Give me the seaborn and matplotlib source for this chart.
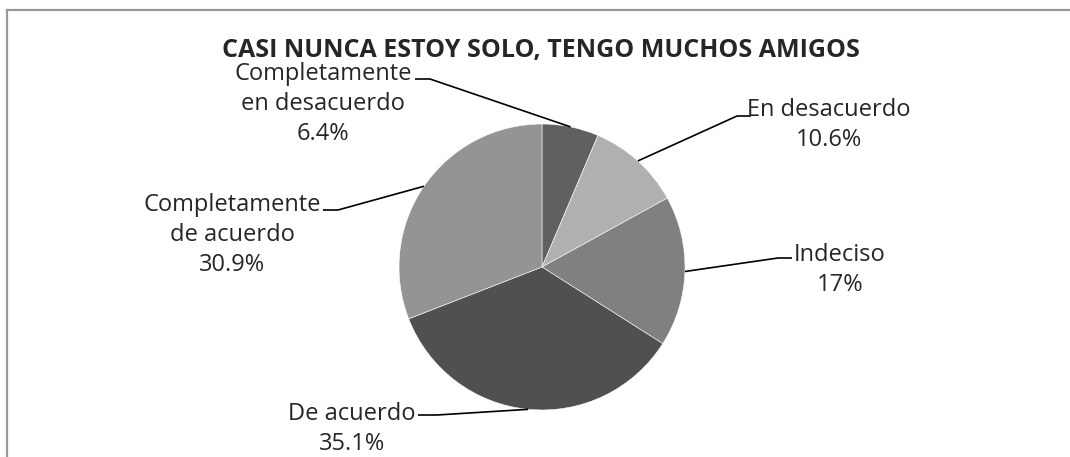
import numpy as np
import seaborn as sns
import matplotlib.pyplot as plt

sns.set_style("white")
plt.rcParams['font.family'] = ['Open Sans', 'DejaVu Sans']

# data
categories = ["Completamente\nen desacuerdo", "En desacuerdo", "Indeciso",
              "De acuerdo", "Completamente\nde acuerdo"]
values = [6.4, 10.6, 17, 35.1, 30.9]
colors = ["#606060", "#b0b0b0", "#808080", "#505050", "#949494"]
title = "CASI NUNCA ESTOY SOLO, TENGO MUCHOS AMIGOS"

W, H = 1070, 457
fig = plt.figure(figsize=(W / 100, H / 100), dpi=100)
ax = fig.add_axes([0, 0, 1, 1])

cx, cy, r = 542, H - 267, 143
wedges, _ = ax.pie(values, colors=colors, startangle=90, counterclock=False,
                   center=(cx, cy), radius=r, frame=True,
                   wedgeprops=dict(edgecolor="white", linewidth=0.4))
ax.set_xlim(0, W)
ax.set_ylim(0, H)
ax.set_aspect("equal")
ax.axis("off")

# label layout (pixel positions, y from top): text centre, stub x0, stub x1, stub y
label_layout = [
    (323, 104, 415, 430, 79),
    (829, 125, 751, 737, 116),
    (840, 270, 792, 778, 258),
    (352, 429, 418, 437, 415),
    (232, 235, 323, 338, 210),
]

for w, cat, v, (tx, ty, sx0, sx1, sy) in zip(wedges, categories, values, label_layout):
    ang = np.deg2rad((w.theta1 + w.theta2) / 2)
    px = cx + r * np.cos(ang)
    py = cy + r * np.sin(ang)
    ax.plot([sx0, sx1, px], [H - sy, H - sy, py], color="black", lw=1.2,
            solid_capstyle="butt")
    ax.text(tx, H - ty, f"{cat}\n{v:g}%", ha="center", va="center",
            multialignment="center", fontsize=17, linespacing=1.35)

ax.text(541, H - 50, title, ha="center", va="center", fontsize=18,
        fontweight="bold")

# chart frame
ax.plot([7, 7], [0, H - 10], color="#999999", lw=1.6, solid_capstyle="projecting")
ax.plot([7, W], [H - 10, H - 10], color="#999999", lw=1.6, solid_capstyle="projecting")

fig.savefig("out.png", dpi=100, facecolor="white")
